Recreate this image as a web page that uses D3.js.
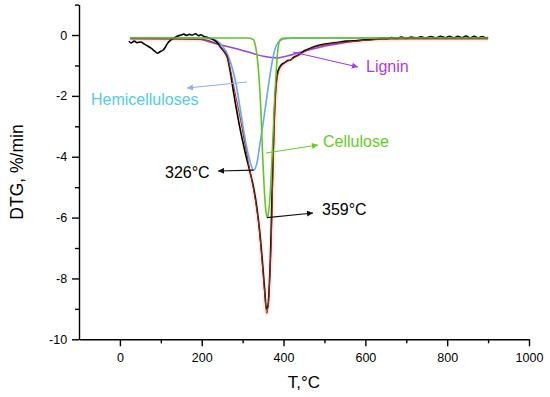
<!DOCTYPE html>
<html><head><meta charset="utf-8">
<script src="https://cdn.jsdelivr.net/npm/d3@7"></script>
<style>
body{margin:0;background:#fff;}
svg{display:block;font-family:"Liberation Sans",Arial,sans-serif;}
</style></head><body>
<svg id="c" width="550" height="397"></svg>
<script>
// ---- data (T in °C, DTG in %/min) ----
const xTicks = [0, 200, 400, 600, 800, 1000];
const yTicks = [-10, -8, -6, -4, -2, 0];
const experimental = [
  [22,-0.2],[27,-0.26],[35,-0.2],[42,-0.25],[51,-0.23],[60,-0.3],[68,-0.36],[76,-0.43],[84,-0.52],[92,-0.6],[98,-0.55],[105,-0.5],[111,-0.4],[117,-0.26],[124,-0.17],[132,-0.1],[140,-0.04],[149,0.0],[156,0.03],[163,-0.01],[170,0.02],[177,0.0],[185,0.04],[192,-0.02],[198,0.01],[205,-0.05],[215,-0.08],[229,-0.16],[238,-0.25],[246,-0.4],[255,-0.55],[263,-0.75],[271,-1.3],[278,-1.9],[287,-2.6],[297,-3.3],[307,-3.9],[318,-4.5],[328,-5.1],[336,-5.8],[342,-6.5],[348,-7.4],[354,-8.4],[358,-9.0],[362,-8.9],[365,-8.3],[368,-7.3],[370,-6.3],[372,-5.2],[374,-4.1],[376,-3.2],[378,-2.4],[381,-1.7],[385,-1.25],[391,-1.05],[397,-0.95],[404,-0.9],[410,-0.84],[417,-0.82],[425,-0.73],[433,-0.68],[441,-0.62],[450,-0.52],[458,-0.48],[466,-0.43],[480,-0.36],[495,-0.31],[515,-0.27],[535,-0.24],[553,-0.2],[571,-0.19],[590,-0.17],[610,-0.15],[629,-0.13],[642,-0.1],[652,-0.12],[664,-0.08],[676,-0.11],[688,-0.07],[700,-0.11],[712,-0.07],[724,-0.1],[736,-0.06],[748,-0.1],[760,-0.05],[772,-0.1],[784,-0.04],[796,-0.09],[806,-0.04],[816,-0.1],[826,-0.04],[836,-0.09],[846,-0.03],[856,-0.1],[866,-0.04],[876,-0.1],[886,-0.05],[894,-0.09],[900,-0.08]
];
const fitSum = [
  [25,-0.13],[200,-0.15],[230,-0.25],[250,-0.45],[265,-0.85],[280,-1.8],[295,-2.8],[307,-3.7],[320,-4.6],[332,-5.5],[340,-6.3],[348,-7.5],[354,-8.5],[359,-9.15],[364,-8.6],[368,-7.4],[371,-6.3],[373,-5.1],[376,-3.7],[379,-2.5],[383,-1.6],[390,-1.12],[400,-0.95],[417,-0.82],[437,-0.66],[466,-0.45],[515,-0.29],[571,-0.21],[629,-0.15],[700,-0.13],[900,-0.13]
];
const hemicelluloses = [
  [25,-0.1],[200,-0.1],[230,-0.15],[250,-0.35],[265,-0.7],[275,-1.1],[283,-1.55],[295,-2.5],[307,-3.5],[318,-4.15],[327,-4.44],[335,-4.2],[342,-3.6],[350,-2.9],[358,-2.15],[366,-1.4],[374,-0.75],[382,-0.35],[392,-0.18],[405,-0.12],[430,-0.1],[900,-0.1]
];
const cellulose = [
  [25,-0.1],[310,-0.1],[325,-0.14],[332,-0.4],[337,-0.9],[341,-1.6],[345,-2.6],[349,-4.0],[353,-5.1],[357,-5.8],[360,-6.0],[363,-5.85],[367,-5.3],[371,-4.3],[375,-3.2],[379,-2.0],[383,-1.0],[387,-0.4],[392,-0.15],[400,-0.1],[900,-0.1]
];
const lignin = [
  [25,-0.1],[170,-0.1],[200,-0.15],[229,-0.26],[270,-0.4],[312,-0.55],[351,-0.7],[385,-0.75],[417,-0.66],[458,-0.5],[515,-0.33],[596,-0.16],[678,-0.1],[900,-0.1]
];
const peakLabels = ["326°C", "359°C"];
const componentNames = ["Hemicelluloses", "Cellulose", "Lignin"];

// ---- chart ----
const svg = d3.select("#c");
const x = d3.scaleLinear().domain([-100, 1000]).range([79, 529]);
const y = d3.scaleLinear().domain([-10, 1]).range([339.3, 4.6]);

const line = d3.line().x(d => x(d[0])).y(d => y(d[1])).curve(d3.curveMonotoneX);

// defs for arrowheads
const defs = svg.append("defs");
function marker(id, color) {
  defs.append("marker").attr("id", id).attr("viewBox", "0 0 10 10")
    .attr("refX", 10).attr("refY", 5).attr("markerWidth", 9).attr("markerHeight", 6)
    .attr("markerUnits", "userSpaceOnUse").attr("orient", "auto")
    .append("path").attr("d", "M0,0L10,5L0,10z").attr("fill", color);
}
marker("mk", "#111");
marker("mg", "#66cc22");
marker("mb", "#8fb0e0");
marker("mp", "#a040e0");

const fmt = d => String(d);

// axes
const xAxis = svg.append("g").attr("transform", `translate(0,${y(-10)})`)
  .call(d3.axisBottom(x).tickValues(xTicks).tickSize(7).tickSizeOuter(0).tickFormat(fmt));
svg.append("g").attr("transform", `translate(0,${y(-10)})`)
  .call(d3.axisBottom(x).tickValues([100, 300, 500, 700, 900]).tickSize(4).tickFormat(""))
  .select(".domain").remove();
const yAxis = svg.append("g").attr("transform", `translate(${x(-100)},0)`)
  .call(d3.axisLeft(y).tickValues(yTicks).tickSize(7).tickSizeOuter(0).tickFormat(fmt));
svg.append("g").attr("transform", `translate(${x(-100)},0)`)
  .call(d3.axisLeft(y).tickValues([-9, -7, -5, -3, -1, 1]).tickSize(4).tickFormat(""))
  .select(".domain").remove();
svg.selectAll(".domain, .tick line").attr("stroke", "#000").attr("stroke-width", 1.4);
svg.selectAll(".tick text").attr("font-size", 12.5).attr("font-family", "Liberation Sans, Arial, sans-serif").attr("fill", "#000");
xAxis.selectAll(".tick text").attr("dy", "1.05em");
yAxis.selectAll(".tick text").attr("dx", "-0.15em");

// axis titles
svg.append("text").attr("x", 304).attr("y", 388).attr("text-anchor", "middle")
  .attr("font-size", 17).text("T,°C");
svg.append("text").attr("transform", "translate(23,172) rotate(-90)").attr("text-anchor", "middle")
  .attr("font-size", 17.5).text("DTG, %/min");

// curves
svg.append("path").datum(fitSum).attr("d", line).attr("fill", "none")
  .attr("stroke", "#fbd9e0").attr("stroke-width", 5).attr("opacity", 0.6);
svg.append("path").datum(lignin).attr("d", line).attr("fill", "none")
  .attr("stroke", "#9a45dc").attr("stroke-width", 1.6);
svg.append("path").datum(hemicelluloses).attr("d", line).attr("fill", "none")
  .attr("stroke", "#6aa6f2").attr("stroke-width", 1.6);
svg.append("path").datum(experimental).attr("d", line).attr("fill", "none")
  .attr("stroke", "#000").attr("stroke-width", 1.6);
svg.append("path").datum(cellulose).attr("d", line).attr("fill", "none")
  .attr("stroke", "#5fc81e").attr("stroke-width", 1.6);
svg.append("path").datum(fitSum).attr("d", line).attr("fill", "none")
  .attr("stroke", "#8b3a1a").attr("stroke-width", 1);

// annotations
function arrow(x1, y1, x2, y2, color, mk) {
  svg.append("line").attr("x1", x1).attr("y1", y1).attr("x2", x2).attr("y2", y2)
    .attr("stroke", color).attr("stroke-width", 1.2).attr("marker-end", `url(#${mk})`);
}
// 326°C
arrow(x(327), y(-4.44), 218, 171, "#111", "mk");
svg.append("text").attr("x", 165).attr("y", 178).attr("font-size", 16).attr("fill", "#000").text(peakLabels[0]);
// 359°C
arrow(x(360), y(-6.0), 313, 213, "#111", "mk");
svg.append("text").attr("x", 322).attr("y", 215).attr("font-size", 16).attr("fill", "#000").text(peakLabels[1]);
// Cellulose
arrow(x(357), 153, 318, 145, "#66cc22", "mg");
svg.append("text").attr("x", 323).attr("y", 147).attr("font-size", 16).attr("fill", "#66cc22").text(componentNames[1]);
// Hemicelluloses
arrow(247, 82, 187, 88, "#8fb0e0", "mb");
svg.append("text").attr("x", 91).attr("y", 105).attr("font-size", 16).attr("fill", "#55cce0").text(componentNames[0]);
// Lignin
arrow(293, 52, 358, 67, "#a040e0", "mp");
svg.append("text").attr("x", 366).attr("y", 72).attr("font-size", 16).attr("fill", "#a83ee6").text(componentNames[2]);
</script>
</body></html>
